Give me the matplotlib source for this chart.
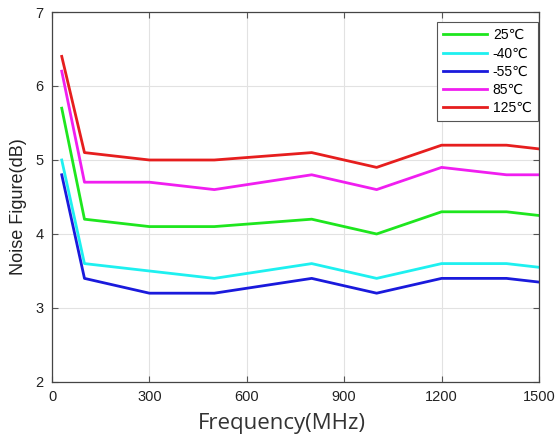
import matplotlib
matplotlib.use("Agg")
import matplotlib.pyplot as plt

freq = [30, 100, 300, 500, 800, 1000, 1200, 1400, 1500]
nf_25 = [5.7, 4.2, 4.1, 4.1, 4.2, 4.0, 4.3, 4.3, 4.25]
nf_m40 = [5.0, 3.6, 3.5, 3.4, 3.6, 3.4, 3.6, 3.6, 3.55]
nf_m55 = [4.8, 3.4, 3.2, 3.2, 3.4, 3.2, 3.4, 3.4, 3.35]
nf_85 = [6.2, 4.7, 4.7, 4.6, 4.8, 4.6, 4.9, 4.8, 4.8]
nf_125 = [6.4, 5.1, 5.0, 5.0, 5.1, 4.9, 5.2, 5.2, 5.15]

labels = ["25℃", "-40℃", "-55℃", "85℃", "125℃"]
colors = ["#1ee61e", "#1ef0f0", "#1a1adc", "#f01ef0", "#e61e1e"]
xticks = [0, 300, 600, 900, 1200, 1500]
yticks = [2, 3, 4, 5, 6, 7]

plt.rcParams["font.family"] = ["Liberation Sans", "DejaVu Sans"]

fig = plt.figure(figsize=(5.55, 4.38), dpi=100)
ax = fig.add_axes([0.0937, 0.1279, 0.8774, 0.8447])

for series, lab, col in zip([nf_25, nf_m40, nf_m55, nf_85, nf_125], labels, colors):
    ax.plot(freq, series, color=col, lw=2.0, label=lab)

ax.set_xlim(0, 1500)
ax.set_ylim(2, 7)
ax.set_xticks(xticks)
ax.set_yticks(yticks)
ax.grid(True, color="#e2e2e2", lw=0.8)
ax.set_axisbelow(True)
ax.tick_params(direction="in", top=True, right=True, length=4, width=0.8,
               color="#555555", labelsize=10.5, labelcolor="#222222", pad=6)
for s in ax.spines.values():
    s.set_color("#444444")
    s.set_linewidth(0.9)

ax.set_xlabel("Frequency(MHz)", fontsize=16, family=["Open Sans", "DejaVu Sans"],
              color="#333333")
ax.xaxis.set_label_coords(0.472, -0.085)
ax.set_ylabel("Noise Figure(dB)", fontsize=13, color="#222222")
ax.yaxis.set_label_coords(-0.052, 0.473)

leg = ax.legend(loc="upper right", bbox_to_anchor=(0.998, 0.973), fontsize=10,
                handlelength=3.2, handletextpad=0.4, labelspacing=0.3,
                borderpad=0.45, borderaxespad=0, fancybox=False, framealpha=1,
                edgecolor="#555555")
leg.get_frame().set_linewidth(0.8)

fig.savefig("out.png", dpi=100)
